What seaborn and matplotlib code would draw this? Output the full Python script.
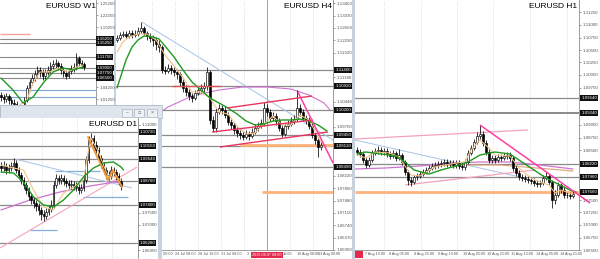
import numpy as np
import matplotlib
matplotlib.use("Agg")
import matplotlib.pyplot as plt
import matplotlib.transforms as mtrans
from matplotlib.patches import Rectangle
import seaborn as sns

sns.set_theme(style="white")
plt.rcParams['font.family'] = ['Liberation Sans', 'DejaVu Sans']

# ------------------------------------------------------------------ data
# ---- W1
w1_open0 = 1.0225
w1_close = [1.0175,1.0125,1.0200,1.0100,1.0025,1.0000,0.9900,0.9850,0.9800,1.0100,1.0400,1.0550,1.0650,1.0750,1.0850,1.0800,1.0700,1.0800,1.0850,1.0950,1.1000,1.1025,1.0950,1.0850,1.0775,1.0700,1.0825,1.0875,1.0925,1.1150,1.1025,1.1000,1.0925]
w1_high = [1.0300,1.0250,1.0275,1.0250,1.0175,1.0125,1.0075,0.9975,0.9950,1.0175,1.0475,1.0625,1.0750,1.0850,1.0950,1.0925,1.0875,1.0875,1.0950,1.1050,1.1100,1.1125,1.1075,1.1025,1.0925,1.0850,1.0900,1.0975,1.1025,1.1275,1.1200,1.1100,1.1050]
w1_low = [1.0075,1.0025,1.0050,1.0000,0.9925,0.9900,0.9800,0.9750,0.9700,0.9725,1.0050,1.0325,1.0475,1.0575,1.0675,1.0675,1.0600,1.0625,1.0725,1.0775,1.0875,1.0900,1.0850,1.0750,1.0675,1.0625,1.0650,1.0750,1.0800,1.0850,1.0950,1.0900,1.0850]
w1_green_x = [0,4.6,8.5,12.3,16.2,20,23.8,27.7,31.5]
w1_green_y = [1.0650,1.0350,1.0025,1.0175,1.0525,1.0800,1.0900,1.0850,1.0925]
w1_tan_x = [7.3,10,12.3,15,18.8,21.9,25.4,29.2,31.5]
w1_tan_y = [0.9975,1.0100,1.0525,1.0800,1.0800,1.0900,1.0800,1.0925,1.0975]
w1_levels = [1.1625,1.1525,1.1175,1.0900,1.0775,1.0650]
w1_blue_levels = [1.0350,1.0175]
w1_salmon = ([-0.4, 11.2], [1.1750, 1.1750])
w1_ticks = [1.2525,1.2225,1.1925,1.1325,1.1025,1.0725,1.0425,1.0125]

# ---- H4
h4_open0 = 1.1230
h4_close = [1.1236,1.1245,1.1248,1.1242,1.1251,1.1245,1.1248,1.1257,1.1266,1.1251,
            1.1242,1.1236,1.1230,1.1218,1.1209,1.1140,1.1137,1.1146,1.1140,1.1134,
            1.1128,1.1104,1.1086,1.1074,1.1062,1.1056,1.1071,1.1080,1.1086,1.1092,
            1.1134,1.0990,1.0966,1.1014,1.1026,1.1020,1.1005,1.0984,1.0975,1.0960,
            1.0951,1.0945,1.0939,1.0948,1.0942,1.0954,1.0966,1.0972,1.0981,1.1026,
            1.1014,1.0996,1.1002,1.0987,1.0966,1.0948,1.0972,1.0978,1.0987,1.0993,
            1.1026,1.1014,1.0996,1.0990,1.0972,1.0945,1.0930,1.0909,1.0915]
h4_high = [1.1245,1.1254,1.1257,1.1257,1.1260,1.1260,1.1260,1.1269,1.1284,1.1272,
           1.1257,1.1251,1.1245,1.1239,1.1230,1.1215,1.1152,1.1158,1.1155,1.1149,
           1.1143,1.1134,1.1113,1.1095,1.1083,1.1071,1.1080,1.1092,1.1098,1.1104,
           1.1149,1.1140,1.1002,1.1026,1.1038,1.1035,1.1032,1.1014,1.0993,1.0984,
           1.0969,1.0960,1.0957,1.0960,1.0957,1.0966,1.0978,1.0984,1.0993,1.1044,
           1.1038,1.1023,1.1014,1.1011,1.0996,1.0975,1.0981,1.0990,1.0999,1.1005,
           1.1080,1.1038,1.1023,1.1005,1.0999,1.0981,1.0954,1.0939,1.0924]
h4_low = [1.1224,1.1230,1.1239,1.1236,1.1236,1.1236,1.1239,1.1242,1.1251,1.1245,
          1.1230,1.1224,1.1212,1.1200,1.1194,1.1131,1.1128,1.1131,1.1128,1.1122,
          1.1113,1.1092,1.1074,1.1062,1.1050,1.1044,1.1050,1.1065,1.1071,1.1074,
          1.1080,1.0978,1.0954,1.0954,1.1008,1.1008,1.0996,1.0975,1.0963,1.0948,
          1.0939,1.0933,1.0930,1.0933,1.0930,1.0936,1.0948,1.0957,1.0966,1.0972,
          1.1002,1.0987,1.0987,1.0975,1.0957,1.0939,1.0942,1.0963,1.0972,1.0978,
          1.0987,1.1002,1.0987,1.0978,1.0963,1.0936,1.0918,1.0879,1.0900]
h4_green_x = [0,3,5,7,9,12,14,16,19,22,25,28,31,34,37,40,43,46,49,52,55,58,61,64,67,70]
h4_green_y = [1.1086,1.1170,1.1209,1.1230,1.1242,1.1239,1.1233,1.1212,1.1179,1.1140,1.1104,1.1080,1.1056,1.1041,1.1026,1.1008,1.0987,1.0975,1.0978,1.0987,1.0990,1.0990,1.0993,1.0987,1.0975,1.0957]
h4_tan_x = [0,2,4,7,10,13,16,19,22,25,28,31,34,37,40,43,46,49,52,55,58,61,64,67,68]
h4_tan_y = [1.1194,1.1224,1.1239,1.1248,1.1248,1.1230,1.1185,1.1152,1.1116,1.1074,1.1074,1.1056,1.1014,1.1008,1.0972,1.0948,1.0951,1.0978,1.1002,1.0975,1.0975,1.1005,1.0990,1.0939,1.0924]
h4_purple_x = [13,17,25,34,42,50,58,64,69,71]
h4_purple_y = [1.1005,1.1029,1.1062,1.1080,1.1089,1.1089,1.1083,1.1065,1.1041,1.1020]
h4_levels = [1.1140,1.1092,1.1020,1.0945,1.0912,1.0849]
h4_blue = ([8.3, 72], [1.1284, 1.0930])
h4_red_up = ([36.7, 65], [1.1026, 1.1062])
h4_red_mid = ([31.7, 65.3], [1.0954, 1.0990])
h4_red_low = ([34.3, 70.3], [1.0909, 1.0954])
h4_red_short = ([18.3, 34.3], [1.1092, 1.1092])
h4_magenta = ([60.3, 72], [1.1074, 1.0861])
h4_orange1 = ([41, 72], [1.0915, 1.0915])
h4_orange2 = ([48.3, 72], [1.0774, 1.0774])
h4_vline = 50
h4_ticks = [1.0600 + 0.0037 * k for k in range(21)]
h4_grid_x = [11.67, 19.33, 27.0, 34.67, 42.33, 50.0, 57.67, 65.33]
h4_time_x = [11.67, 19.33, 27.0, 34.67, 43.3, 55.3, 60.0, 67.0]
h4_time_lbl = ["21 Jul 00:00", "24 Jul 08:00", "28 Jul 16:00", "31 Jul 08:00",
               "3", "16:00", "10 Aug 08:00", "13 Aug 00:00"]
h4_date_box = "2015.08.07 08:00"

# ---- H1
h1_open0 = 1.0850
h1_close = [1.0846,1.0842,1.0830,1.0820,1.0830,1.0844,1.0848,1.0850,1.0846,1.0848,
            1.0842,1.0838,1.0844,1.0834,1.0840,1.0826,1.0806,1.0790,1.0786,1.0796,
            1.0798,1.0802,1.0806,1.0810,1.0814,1.0818,1.0820,1.0822,1.0824,1.0826,
            1.0822,1.0824,1.0820,1.0824,1.0818,1.0816,1.0826,1.0844,1.0854,1.0866,
            1.0878,1.0882,1.0864,1.0846,1.0830,1.0834,1.0830,1.0836,1.0834,1.0838,
            1.0840,1.0834,1.0814,1.0804,1.0796,1.0794,1.0792,1.0790,1.0788,1.0784,
            1.0782,1.0784,1.0794,1.0798,1.0786,1.0750,1.0760,1.0780,1.0770,1.0760,
            1.0760,1.0758,1.0762]
h1_high = [1.0856,1.0852,1.0848,1.0836,1.0836,1.0850,1.0854,1.0858,1.0856,1.0854,
           1.0854,1.0848,1.0850,1.0848,1.0852,1.0844,1.0830,1.0810,1.0796,1.0800,
           1.0804,1.0808,1.0812,1.0816,1.0820,1.0824,1.0826,1.0828,1.0830,1.0832,
           1.0832,1.0830,1.0830,1.0830,1.0830,1.0824,1.0832,1.0850,1.0860,1.0872,
           1.0886,1.0900,1.0888,1.0870,1.0852,1.0840,1.0840,1.0842,1.0842,1.0844,
           1.0846,1.0846,1.0838,1.0820,1.0810,1.0802,1.0800,1.0798,1.0796,1.0794,
           1.0790,1.0790,1.0800,1.0806,1.0802,1.0790,1.0770,1.0786,1.0784,1.0776,
           1.0766,1.0766,1.0768]
h1_low = [1.0840,1.0836,1.0824,1.0814,1.0816,1.0826,1.0840,1.0842,1.0840,1.0840,
          1.0836,1.0832,1.0834,1.0828,1.0830,1.0820,1.0800,1.0780,1.0778,1.0782,
          1.0790,1.0794,1.0798,1.0802,1.0806,1.0810,1.0812,1.0814,1.0816,1.0818,
          1.0816,1.0816,1.0814,1.0814,1.0812,1.0810,1.0810,1.0822,1.0840,1.0850,
          1.0862,1.0872,1.0858,1.0840,1.0824,1.0824,1.0824,1.0826,1.0828,1.0830,
          1.0832,1.0828,1.0808,1.0798,1.0790,1.0788,1.0786,1.0784,1.0782,1.0778,
          1.0776,1.0776,1.0780,1.0790,1.0780,1.0734,1.0742,1.0756,1.0764,1.0754,
          1.0754,1.0752,1.0754]
h1_green_x = [0,3,8,13,16,19,24,28,33,37,41,46,51,54,58,63,67,71,73]
h1_green_y = [1.0842,1.0846,1.0842,1.0838,1.0826,1.0810,1.0802,1.0810,1.0818,1.0826,1.0840,1.0846,1.0842,1.0830,1.0814,1.0794,1.0782,1.0770,1.0766]
h1_tan_x = [0,3,6,11,14,18,21,26,33,36,38,41,44,46,51,54,58,61,64,66,68,72]
h1_tan_y = [1.0840,1.0834,1.0846,1.0844,1.0836,1.0800,1.0798,1.0816,1.0824,1.0826,1.0850,1.0870,1.0854,1.0840,1.0838,1.0814,1.0794,1.0786,1.0780,1.0764,1.0770,1.0762]
h1_purple_x = [-0.7,9.3,21,31,41,51,61,72]
h1_purple_y = [1.0812,1.0814,1.0818,1.0824,1.0826,1.0826,1.0820,1.0812]
h1_brown_x = [24.3,47.7,72]
h1_brown_y = [1.0820,1.0820,1.0808]
h1_levels = [1.0954,1.0924,1.0822,1.0796,1.0766]
h1_blue = ([-0.7, 54.3], [1.0870, 1.0796])
h1_pink_up = ([-0.7, 57], [1.0872, 1.0890])
h1_pink_low = ([16, 59.3], [1.0780, 1.0810])
h1_magenta = ([41, 77.7], [1.0900, 1.0744])
h1_orange = ([-0.7, 81], [1.0766, 1.0766])
h1_ticks = [1.0650 + 0.0025 * k for k in range(20)]
h1_grid_x = [9.0, 21.3, 33.3, 45.3, 57.7, 70.0]
h1_time_x = [2.7, 10.7, 19.0, 27.0, 35.3, 43.3, 51.3, 59.7, 67.7]
h1_time_lbl = ["7 Aug 13:00", "8 Aug 05:00", "8 Aug 21:00", "9 Aug 13:00", "10 Aug 05:00",
               "10 Aug 21:00", "11 Aug 13:00", "14 Aug 05:00", "14 Aug 21:00"]

# ---- D1
d1_open0 = 1.0936
d1_close = [1.0928,1.0936,1.0920,1.0928,1.0936,1.0948,1.0920,1.0900,1.0880,1.0860,
            1.0840,1.0816,1.0800,1.0788,1.0776,1.0760,1.0744,1.0736,1.0752,1.0764,
            1.0780,1.0860,1.0888,1.0880,1.0888,1.0876,1.0868,1.0860,1.0864,1.0856,
            1.0852,1.0840,1.0848,1.0880,1.0960,1.1040,1.1048,1.1020,1.1000,1.0968,
            1.0940,1.0920,1.0900,1.0896,1.0920,1.0912,1.0896,1.0876,1.0856]
d1_high = [1.0952,1.0956,1.0948,1.0944,1.0952,1.0968,1.0960,1.0932,1.0912,1.0892,
           1.0872,1.0852,1.0828,1.0812,1.0800,1.0788,1.0772,1.0760,1.0768,1.0780,
           1.0800,1.0876,1.0904,1.0900,1.0904,1.0900,1.0888,1.0880,1.0880,1.0876,
           1.0872,1.0864,1.0864,1.0896,1.0976,1.1056,1.1068,1.1060,1.1036,1.1012,
           1.0980,1.0952,1.0932,1.0916,1.0936,1.0932,1.0924,1.0908,1.0888]
d1_low = [1.0912,1.0916,1.0904,1.0908,1.0916,1.0924,1.0908,1.0884,1.0864,1.0844,
          1.0824,1.0800,1.0784,1.0768,1.0756,1.0740,1.0720,1.0716,1.0724,1.0740,
          1.0752,1.0768,1.0848,1.0864,1.0864,1.0860,1.0852,1.0844,1.0844,1.0840,
          1.0836,1.0824,1.0828,1.0836,1.0868,1.0948,1.1024,1.1008,1.0984,1.0956,
          1.0928,1.0904,1.0884,1.0880,1.0884,1.0896,1.0880,1.0860,1.0840]
d1_green_x = [0,5,9,13,17,21,25,29,33,37,41,45,48,49]
d1_green_y = [1.0912,1.0908,1.0872,1.0812,1.0780,1.0772,1.0800,1.0840,1.0892,1.0928,1.0948,1.0952,1.0932,1.0920]
d1_tan_x = [0,5,9,13,17,21,25,29,33,35,36,39,41,43,46,48]
d1_tan_y = [1.0940,1.0928,1.0920,1.0840,1.0772,1.0760,1.0828,1.0852,1.0880,1.1000,1.1048,1.0992,1.0940,1.0892,1.0892,1.0880]
d1_purple_x = [0,11.6,23.6,35.6,45.6,48.8]
d1_purple_y = [1.0760,1.0800,1.0832,1.0856,1.0872,1.0864]
d1_zigzag_x = [34.8,42.8,44.8,48.4]
d1_zigzag_y = [1.1052,1.0880,1.0920,1.0852]
d1_levels = [1.1072,1.1016,1.0964,1.0876,1.0780,1.0628]
d1_blue = ([5.6, 52.4], [1.0964, 1.0848])
d1_pink = ([-0.4, 54.4], [1.0608, 1.0932])
d1_blue_segs = [([21.6, 39.6], 1.0916), ([32.8, 50.8], 1.0812), ([11.6, 22.4], 1.0680)]
d1_ticks = [1.0600 + 0.0050 * k for k in range(11)]
d1_grid_x = [16.4, 30.4, 44.4]

# ------------------------------------------------------------------ helpers
W, H = 600, 259
fig = plt.figure(figsize=(6, 2.59), dpi=100)
fig.patch.set_facecolor('#c8d2dd')


def px_axes(x0, y0, x1, y1, z, fc='white'):
    ax = fig.add_axes([x0 / W, 1 - y1 / H, (x1 - x0) / W, (y1 - y0) / H])
    ax.set_zorder(z)
    ax.set_facecolor(fc)
    ax._px_h = (y1 - y0)
    return ax


def blank(ax):
    ax.set_xticks([])
    ax.set_yticks([])
    for s in ax.spines.values():
        s.set_visible(False)


def fpt(x, y):
    return x / W, 1 - y / H


def candles(ax, open0, close, high, low, width=0.62, minh=0.00006):
    c = np.asarray(close)
    h = np.asarray(high)
    l = np.asarray(low)
    o = np.concatenate([[open0], c[:-1]])
    idx = np.arange(len(c))
    ax.vlines(idx, l, h, color='black', lw=0.55, zorder=4)
    bottom = np.minimum(o, c)
    height = np.maximum(np.abs(c - o), minh)
    up = c >= o
    ax.bar(idx[up], height[up], bottom=bottom[up], width=width, color='white',
           edgecolor='black', linewidth=0.45, zorder=5)
    ax.bar(idx[~up], height[~up], bottom=bottom[~up], width=width, color='black',
           edgecolor='black', linewidth=0.45, zorder=5)


def ma(ax, xs, ys, color, lw, z=6):
    sns.lineplot(x=xs, y=ys, ax=ax, color=color, linewidth=lw, zorder=z, sort=False,
                 estimator=None, legend=False)


def seg(ax, pts, color, lw, z=7, clip=True):
    ax.plot(pts[0], pts[1], color=color, lw=lw, zorder=z, solid_capstyle='butt',
            clip_on=clip)


def style_panel(ax, xlim, ylim, yticks, levels, timex=None, timelbl=None):
    ax.set_xlim(*xlim)
    ax.set_ylim(*ylim)
    ax.set_xlabel('')
    ax.set_ylabel('')
    for s in ['left', 'top']:
        ax.spines[s].set_visible(False)
    for s in ['right', 'bottom']:
        ax.spines[s].set_color('#8c8c8c')
        ax.spines[s].set_linewidth(0.6)
    ax.yaxis.tick_right()
    # price labels hidden behind the level boxes (as on the terminal)
    ppx = (ylim[1] - ylim[0]) / ax._px_h
    shown = [v for v in yticks if all(abs(v - L) > 6.5 * ppx for L in levels)]
    ax.set_yticks(shown)
    ax.set_yticklabels([f"{v:.5f}" for v in shown])
    ax.tick_params(axis='y', labelsize=3.2, colors='#555555', length=1.5, width=0.4,
                   pad=1.2, right=True, left=False)
    if timex is None:
        ax.set_xticks([])
    else:
        ax.set_xticks(timex)
        ax.set_xticklabels(timelbl)
        ax.tick_params(axis='x', labelsize=2.7, colors='#555555', length=0,
                       pad=1.5, bottom=True)
        for t in ax.get_xticklabels():
            t.set_ha('left')


def level_boxes(ax, levels):
    tr = mtrans.blended_transform_factory(ax.transAxes, ax.transData)
    for v in levels:
        ax.text(1.01, v, f"{v:.5f}", transform=tr, fontsize=3.2, color='white',
                ha='left', va='center', zorder=20, clip_on=False,
                bbox=dict(boxstyle='square,pad=0.18', fc='#111111', ec='none'))


def title(ax, x, y, s):
    ax.text(*fpt(x, y), s, transform=fig.transFigure, fontsize=6, color='black',
            ha='right', va='top', zorder=30, clip_on=False)


def vgrid(ax, xs):
    for gx in xs:
        ax.axvline(gx, color='#c4c4c4', lw=0.5, ls=(0, (1, 2)), zorder=1)


GREEN = '#1e9a1e'
TAN = '#f2c488'
PURPLE = '#cf72cf'
GRAY = '#8a8a8a'
LBLUE = '#a6c4e6'

# ------------------------------------------------------------------ W1 window
bg = px_axes(0, 0, 114, 106, 1)
blank(bg)
ax = px_axes(0, 0, 96, 106, 2)
ax.grid(False)
for v in w1_levels:
    ax.axhline(v, color=GRAY, lw=0.8, zorder=2)
for v in w1_blue_levels:
    ax.axhline(v, color='#7ea6d6', lw=0.8, zorder=2)
seg(ax, w1_salmon, '#f4a0a0', 1.0)
candles(ax, w1_open0, w1_close, w1_high, w1_low, minh=0.0004)
ma(ax, w1_tan_x, w1_tan_y, TAN, 0.8)
ma(ax, w1_green_x, w1_green_y, GREEN, 1.0)
style_panel(ax, (-0.38, 36.5), (1.2600 - 0.0025 * 106, 1.2600), w1_ticks, w1_levels)
ax.spines['bottom'].set_visible(False)
level_boxes(ax, w1_levels)
title(ax, 96, 3, "EURUSD W1")

# ------------------------------------------------------------------ H4 window
bg = px_axes(117, 0, 352, 259, 1)
blank(bg)
ax = px_axes(116.5, 0, 333, 250, 2)
ax.grid(False)
vgrid(ax, h4_grid_x)
for v in h4_levels:
    ax.axhline(v, color=GRAY, lw=0.9, zorder=2)
ax.axvline(h4_vline, color='#f27a92', lw=0.7, zorder=2)
seg(ax, h4_orange1, '#ffb27a', 2.0, z=3)
seg(ax, h4_orange2, '#ffb27a', 2.0, z=3)
seg(ax, h4_blue, LBLUE, 0.7, z=3)
ma(ax, h4_purple_x, h4_purple_y, PURPLE, 0.8, z=3)
candles(ax, h4_open0, h4_close, h4_high, h4_low, minh=0.00008)
ma(ax, h4_tan_x, h4_tan_y, TAN, 0.8)
ma(ax, h4_green_x, h4_green_y, GREEN, 1.0)
seg(ax, h4_red_up, '#e8345c', 1.0)
seg(ax, h4_red_mid, '#e8345c', 1.0)
seg(ax, h4_red_low, '#e8345c', 1.0)
seg(ax, h4_red_short, '#e05050', 1.0)
seg(ax, h4_magenta, '#ff3fa0', 1.1)
style_panel(ax, (-0.17, 72), (1.0600, 1.1350), h4_ticks, h4_levels, h4_time_x, h4_time_lbl)
level_boxes(ax, h4_levels)
trx = mtrans.blended_transform_factory(ax.transData, ax.transAxes)
ax.text(h4_vline, -0.012, h4_date_box, transform=trx, fontsize=2.7, color='white',
        ha='center', va='top', zorder=25, clip_on=False,
        bbox=dict(boxstyle='square,pad=0.25', fc='#e3294e', ec='none'))
title(ax, 332, 3, "EURUSD H4")

# ------------------------------------------------------------------ H1 window
bg = px_axes(355, 0, 600, 259, 1)
blank(bg)
ax = px_axes(355, 0, 579, 250, 2)
ax.grid(False)
vgrid(ax, h1_grid_x)
for v in h1_levels[:4]:
    ax.axhline(v, color=GRAY, lw=1.4 if v == 1.0924 else 0.9, zorder=2)
seg(ax, h1_orange, '#ffb27a', 2.0, z=3)
seg(ax, h1_blue, LBLUE, 0.7, z=3)
seg(ax, h1_pink_up, '#f2a2bc', 0.9, z=3)
seg(ax, h1_pink_low, '#f2a2bc', 0.9, z=3)
ma(ax, h1_brown_x, h1_brown_y, '#e0a070', 0.8, z=3)
ma(ax, h1_purple_x, h1_purple_y, PURPLE, 0.9, z=3)
candles(ax, h1_open0, h1_close, h1_high, h1_low, minh=0.00005)
ma(ax, h1_tan_x, h1_tan_y, TAN, 0.8)
ma(ax, h1_green_x, h1_green_y, GREEN, 1.0)
seg(ax, h1_magenta, '#ff3fa0', 1.1, clip=False)
style_panel(ax, (-0.67, 74), (1.0650, 1.1150), h1_ticks, h1_levels, h1_time_x, h1_time_lbl)
level_boxes(ax, h1_levels)
ax.add_patch(Rectangle(fpt(355, 258), 8 / W, 7.5 / H, transform=fig.transFigure,
                       fc='#e3294e', ec='none', clip_on=False, zorder=25))
title(ax, 577, 3, "EURUSD H1")

# ------------------------------------------------------------------ D1 window (on top)
frame = px_axes(0, 105, 162, 259, 8, fc='#c8d2dd')
blank(frame)
frame.add_patch(Rectangle(fpt(0, 118), 162 / W, 13 / H, transform=fig.transFigure,
                          fc='#dfe5ec', ec='#aab6c4', lw=0.5, clip_on=False))
frame.add_patch(Rectangle(fpt(0, 259), 158 / W, 141 / H, transform=fig.transFigure,
                          fc='white', ec='none', clip_on=False))
for bx0 in (122, 134, 147):
    frame.add_patch(Rectangle(fpt(bx0, 116.5), 10 / W, 7.5 / H, transform=fig.transFigure,
                              fc='#eef1f5', ec='#9aa6b4', lw=0.4, clip_on=False))
frame.text(*fpt(127, 112.5), "–", transform=fig.transFigure, fontsize=3.5, ha='center',
           va='center', color='#666666')
frame.text(*fpt(139, 112.5), "▫", transform=fig.transFigure, fontsize=3.5, ha='center',
           va='center', color='#666666', family='DejaVu Sans')
frame.text(*fpt(152, 112.5), "×", transform=fig.transFigure, fontsize=4, ha='center',
           va='center', color='#666666')

ax = px_axes(0, 118, 138, 259, 9)
ax.grid(False)
vgrid(ax, d1_grid_x)
for v in d1_levels:
    ax.axhline(v, color=GRAY, lw=0.9, zorder=2)
for xs, v in d1_blue_segs:
    seg(ax, (xs, [v, v]), '#86aedb', 0.9, z=3)
seg(ax, d1_blue, LBLUE, 0.7, z=3)
seg(ax, d1_pink, '#f4a4b8', 0.8, z=3)
ma(ax, d1_purple_x, d1_purple_y, PURPLE, 0.9, z=3)
candles(ax, d1_open0, d1_close, d1_high, d1_low, minh=0.0001)
ma(ax, d1_tan_x, d1_tan_y, TAN, 0.8)
ma(ax, d1_green_x, d1_green_y, GREEN, 1.0)
ma(ax, d1_zigzag_x, d1_zigzag_y, '#f39a3c', 1.4, z=7)
style_panel(ax, (-0.4, 54.8), (1.1600 - 0.0004 * 259, 1.1600 - 0.0004 * 118), d1_ticks, d1_levels)
ax.spines['bottom'].set_visible(False)
level_boxes(ax, d1_levels)
title(ax, 137, 121, "EURUSD D1")

fig.savefig("out.png", dpi=100, facecolor=fig.get_facecolor())
